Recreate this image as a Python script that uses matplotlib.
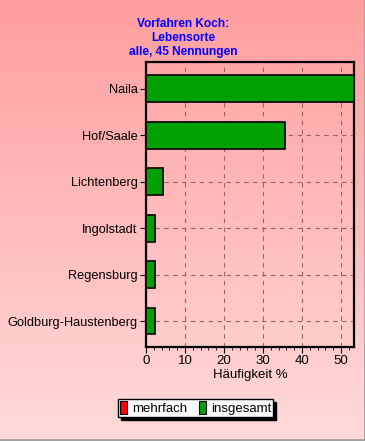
import numpy as np
import matplotlib.pyplot as plt
from matplotlib.patches import Patch

# data
orte = ['Naila', 'Hof/Saale', 'Lichtenberg', 'Ingolstadt', 'Regensburg',
        'Goldburg-Haustenberg']
nennungen = [24, 16, 2, 1, 1, 1]
gesamt = 45
titel = 'Vorfahren Koch:\nLebensorte\nalle, 45 Nennungen'
legend_labels = ['mehrfach', 'insgesamt']

prozent = np.array(nennungen) / gesamt * 100

plt.rcParams['font.family'] = ['Liberation Sans', 'DejaVu Sans']

fig = plt.figure(figsize=(3.65, 4.41), dpi=100)

# background gradient
bg = fig.add_axes([0, 0, 1, 1], zorder=-10)
top = np.array([255, 158, 158]) / 255.
bot = np.array([255, 218, 218]) / 255.
t = np.linspace(0, 1, 256)[:, None]
grad = (top[None, :] * (1 - t) + bot[None, :] * t)[:, None, :]
bg.imshow(grad, aspect='auto', extent=[0, 1, 0, 1])
bg.plot([0, 1, 1], [0.002, 0.002, 1], color='#a0a0a0', lw=2,
        transform=bg.transAxes, clip_on=False)
bg.set_xlim(0, 1)
bg.set_ylim(0, 1)
bg.axis('off')

ax = fig.add_axes([146/365, 1-347/441, 208/365, 285/441])
ax.patch.set_alpha(0)
y = np.arange(len(orte))
ax.barh(y, prozent, height=0.58, color='#00a000', edgecolor='black',
        linewidth=1.2, zorder=3)

ax.set_xlim(0, 53.33)
ax.set_ylim(5.56, -0.58)
ax.set_yticks(y)
ax.set_yticklabels(orte, fontsize=9.2)
ax.set_xticks([0, 10, 20, 30, 40, 50])
ax.set_xticks(np.arange(0, 54, 2), minor=True)
ax.tick_params(axis='x', labelsize=9.5, length=4, width=0.8, pad=2)
ax.tick_params(axis='x', which='minor', length=2, width=0.6)
ax.tick_params(axis='y', length=4, width=0.8, pad=2)
ax.grid(True, which='major', linestyle=(0, (4, 4)), color='#9a6464',
        linewidth=0.8, zorder=0)
for s in ax.spines.values():
    s.set_linewidth(1.6)
ax.set_xlabel('Häufigkeit %', fontsize=9.5, labelpad=1)

fig.text(183/365, 1-18/441, titel, ha='center', va='top', color='#0000ff',
         fontsize=8.6, fontweight='bold', linespacing=1.2)

handles = [Patch(facecolor='#ff0000', edgecolor='black', lw=0.8),
           Patch(facecolor='#00a000', edgecolor='black', lw=0.8)]
leg = fig.legend(handles, legend_labels, loc='center left',
                 bbox_to_anchor=(118/365, 1-408/441), ncol=2,
                 fontsize=9.5, frameon=True, fancybox=False,
                 shadow={'color': 'black', 'alpha': 1},
                 handlelength=0.55, handleheight=1.1, handletextpad=0.35,
                 columnspacing=0.9, borderpad=0.15, borderaxespad=0)
leg.get_frame().set_edgecolor('black')
leg.get_frame().set_facecolor('white')
leg.get_frame().set_alpha(1)

plt.savefig('out.png', dpi=100)
